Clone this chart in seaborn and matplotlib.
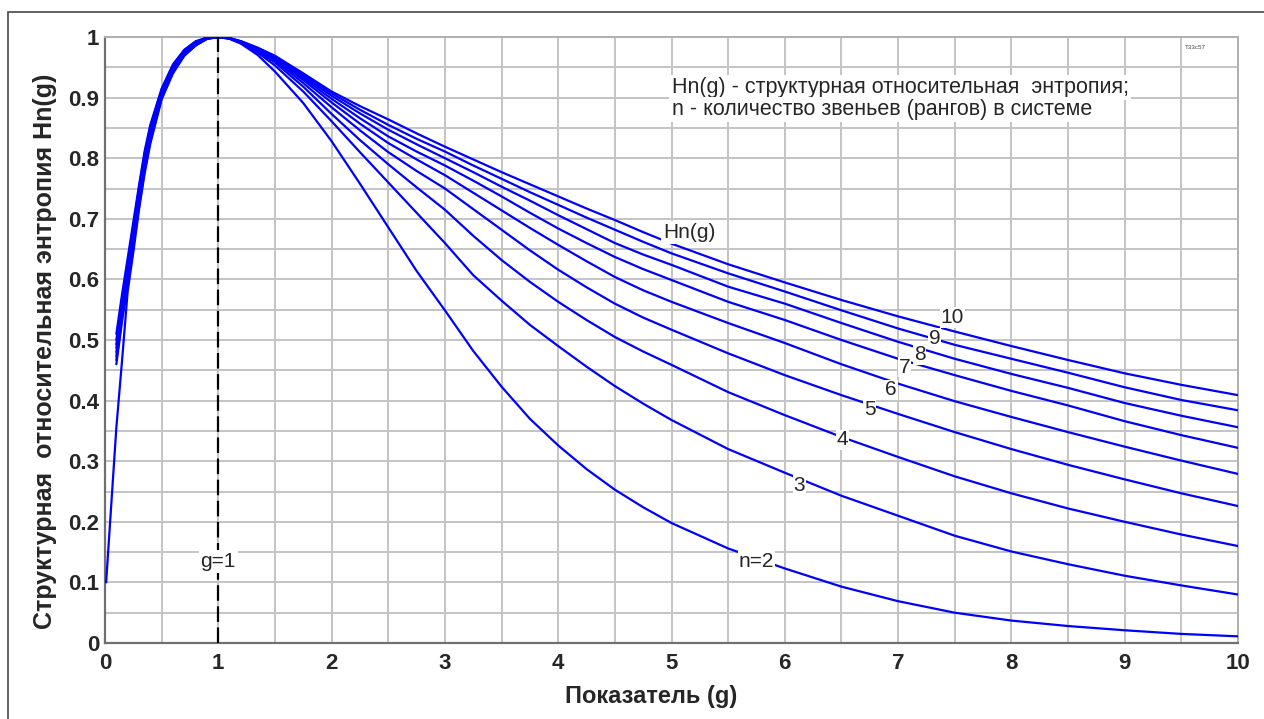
import numpy as np
import pandas as pd
import matplotlib
matplotlib.use("Agg")
import matplotlib.pyplot as plt
from matplotlib.patches import Rectangle
import seaborn as sns

# ---------------- data ----------------
n_values = [2, 3, 4, 5, 6, 7, 8, 9, 10]

g_left = [0.1, 0.15, 0.2, 0.25, 0.3, 0.35, 0.4, 0.5, 0.6, 0.7, 0.8, 0.9]
g_right = [1.0, 1.1, 1.2, 1.35, 1.5, 1.75, 2.0, 2.25, 2.5, 2.75, 3.0, 3.25, 3.5, 3.75,
           4.0, 4.25, 4.5, 4.75, 5.0, 5.5, 6.0, 6.5, 7.0, 7.5, 8.0, 8.5, 9.0, 9.5, 10.0]

g_left_n2 = [0.01, 0.1, 0.15, 0.2, 0.25, 0.3, 0.35, 0.4, 0.5, 0.6, 0.7, 0.8, 0.9]
h_left_n2 = [0.10, 0.355, 0.465, 0.58, 0.645, 0.715, 0.775, 0.824, 0.897, 0.94, 0.969, 0.986, 0.997]

h_left_n3 = [0.46, 0.53, 0.59, 0.655, 0.72, 0.78, 0.828, 0.900, 0.942, 0.970, 0.986, 0.997]
h_left_n4 = [0.467, 0.536, 0.595, 0.660, 0.725, 0.785, 0.832, 0.902, 0.944, 0.971, 0.987, 0.997]
h_left_n5 = [0.473, 0.542, 0.600, 0.665, 0.730, 0.790, 0.836, 0.904, 0.946, 0.972, 0.988, 0.998]
h_left_n6 = [0.480, 0.548, 0.606, 0.670, 0.736, 0.795, 0.840, 0.906, 0.948, 0.974, 0.989, 0.998]
h_left_n7 = [0.487, 0.554, 0.612, 0.676, 0.741, 0.800, 0.844, 0.909, 0.950, 0.975, 0.990, 0.998]
h_left_n8 = [0.493, 0.560, 0.618, 0.682, 0.746, 0.804, 0.848, 0.911, 0.952, 0.976, 0.991, 0.999]
h_left_n9 = [0.500, 0.567, 0.625, 0.688, 0.750, 0.808, 0.852, 0.913, 0.953, 0.978, 0.992, 0.999]
h_left_n10 = [0.51, 0.575, 0.635, 0.695, 0.755, 0.812, 0.855, 0.915, 0.955, 0.979, 0.993, 0.999]

h_right_n2 = [1.0, 0.997, 0.989, 0.970, 0.943, 0.891, 0.828, 0.758, 0.686, 0.614, 0.549, 0.482,
              0.423, 0.370, 0.326, 0.287, 0.253, 0.224, 0.198, 0.156, 0.123, 0.093, 0.069,
              0.050, 0.037, 0.028, 0.021, 0.015, 0.011]
h_right_n3 = [1.0, 0.997, 0.990, 0.974, 0.953, 0.910, 0.861, 0.810, 0.760, 0.710, 0.660, 0.607,
              0.565, 0.525, 0.490, 0.456, 0.424, 0.395, 0.368, 0.320, 0.281, 0.243, 0.210,
              0.177, 0.151, 0.130, 0.111, 0.095, 0.080]
h_right_n4 = [1.0, 0.998, 0.991, 0.976, 0.958, 0.918, 0.873, 0.830, 0.790, 0.752, 0.715, 0.672,
              0.632, 0.596, 0.563, 0.533, 0.505, 0.481, 0.459, 0.414, 0.376, 0.340, 0.307,
              0.275, 0.247, 0.222, 0.200, 0.179, 0.160]
h_right_n5 = [1.0, 0.998, 0.991, 0.978, 0.961, 0.924, 0.884, 0.846, 0.810, 0.779, 0.750, 0.716,
              0.682, 0.648, 0.616, 0.587, 0.560, 0.537, 0.517, 0.478, 0.442, 0.409, 0.378,
              0.348, 0.320, 0.294, 0.270, 0.247, 0.226]
h_right_n6 = [1.0, 0.998, 0.992, 0.979, 0.963, 0.929, 0.892, 0.857, 0.825, 0.798, 0.772, 0.743,
              0.714, 0.685, 0.657, 0.630, 0.604, 0.582, 0.563, 0.528, 0.495, 0.460, 0.428,
              0.399, 0.373, 0.348, 0.324, 0.301, 0.279]
h_right_n7 = [1.0, 0.998, 0.992, 0.980, 0.965, 0.932, 0.898, 0.866, 0.836, 0.811, 0.788, 0.763,
              0.737, 0.710, 0.684, 0.660, 0.637, 0.617, 0.599, 0.563, 0.533, 0.500, 0.469,
              0.442, 0.416, 0.392, 0.366, 0.343, 0.322]
h_right_n8 = [1.0, 0.998, 0.992, 0.981, 0.966, 0.935, 0.903, 0.874, 0.847, 0.823, 0.800, 0.777,
              0.753, 0.730, 0.706, 0.683, 0.660, 0.641, 0.624, 0.588, 0.560, 0.528, 0.497,
              0.469, 0.444, 0.421, 0.396, 0.375, 0.356]
h_right_n9 = [1.0, 0.998, 0.993, 0.982, 0.968, 0.938, 0.907, 0.880, 0.855, 0.832, 0.811, 0.788,
              0.766, 0.744, 0.723, 0.702, 0.682, 0.662, 0.643, 0.610, 0.580, 0.549, 0.519,
              0.492, 0.469, 0.446, 0.422, 0.401, 0.384]
h_right_n10 = [1.0, 0.998, 0.993, 0.982, 0.969, 0.940, 0.910, 0.886, 0.864, 0.841, 0.819, 0.798,
               0.777, 0.757, 0.737, 0.717, 0.698, 0.678, 0.659, 0.625, 0.595, 0.566, 0.539,
               0.514, 0.490, 0.467, 0.445, 0.426, 0.409]

x_ticks = [0, 1, 2, 3, 4, 5, 6, 7, 8, 9, 10]
y_ticks = [0, 0.1, 0.2, 0.3, 0.4, 0.5, 0.6, 0.7, 0.8, 0.9, 1]
y_tick_labels = ["0", "0.1", "0.2", "0.3", "0.4", "0.5", "0.6", "0.7", "0.8", "0.9", "1"]

curve_labels = ["n=2", "3", "4", "5", "6", "7", "8", "9", "10"]
curve_label_g = [5.75, 6.13, 6.51, 6.75, 6.94, 7.06, 7.19, 7.32, 7.48]
curve_label_h = [0.135, 0.26, 0.335, 0.385, 0.418, 0.455, 0.476, 0.503, 0.537]

legend_lines = ["Hn(g) - структурная относительная  энтропия;",
                "n - количество звеньев (рангов) в системе"]

# ---------------- build long table ----------------
left_sets = {2: (g_left_n2, h_left_n2), 3: (g_left, h_left_n3), 4: (g_left, h_left_n4),
             5: (g_left, h_left_n5), 6: (g_left, h_left_n6), 7: (g_left, h_left_n7),
             8: (g_left, h_left_n8), 9: (g_left, h_left_n9), 10: (g_left, h_left_n10)}
right_sets = {2: h_right_n2, 3: h_right_n3, 4: h_right_n4, 5: h_right_n5, 6: h_right_n6,
              7: h_right_n7, 8: h_right_n8, 9: h_right_n9, 10: h_right_n10}
rows = []
for n in n_values:
    gl, hl = left_sets[n]
    for g, h in zip(gl, hl):
        rows.append((n, g, h))
    for g, h in zip(g_right, right_sets[n]):
        rows.append((n, g, h))
df = pd.DataFrame(rows, columns=["n", "g", "H"])

# ---------------- figure ----------------
sns.set_style("white")
plt.rcParams["font.family"] = ["Liberation Sans", "DejaVu Sans"]

fig = plt.figure(figsize=(12.64, 7.19), dpi=100)
ax = fig.add_axes([105 / 1264, 1 - 643 / 719, (1238 - 105) / 1264, (643 - 37) / 719])

# outer frame
fig.patches.append(Rectangle((8 / 1264, -0.05), 1.2, 1 - 12 / 719 + 0.05,
                             transform=fig.transFigure, fill=False,
                             ec="#555555", lw=1.3, zorder=0))

# grid
for xv in np.arange(0, 10.01, 0.5):
    ax.axvline(xv, color="#c4c4c4", lw=1.4, zorder=0)
for yv in np.arange(0, 1.001, 0.05):
    ax.axhline(yv, color="#c4c4c4", lw=1.4, zorder=0)

sns.lineplot(data=df, x="g", y="H", hue="n", units="n", estimator=None,
             palette=["#0000ff"] * len(n_values), legend=False, lw=1.6,
             sort=False, ax=ax, zorder=3)

# g = 1 dashed line
ax.plot([1, 1], [0, 1], color="black", ls=(0, (7, 2.5)), lw=1.6, zorder=4)

lab_fs = 15
ax.text(1, 0.135, "g=1", ha="center", va="center", fontsize=lab_fs, zorder=6,
        bbox=dict(fc="white", ec="none", pad=1.5))

# curve labels
for lab, gx, hy in zip(curve_labels, curve_label_g, curve_label_h):
    ax.text(gx, hy, lab, ha="center", va="center", fontsize=lab_fs, zorder=6,
            bbox=dict(fc="white", ec="none", pad=0.5))
ax.text(5.16, 0.678, "Hn(g)", ha="center", va="center", fontsize=lab_fs, zorder=6,
        bbox=dict(fc="white", ec="none", pad=1.5))

# explanatory text
ax.text(5.0, 0.917, legend_lines[0], ha="left", va="center", fontsize=15.5, zorder=6,
        bbox=dict(fc="white", ec="none", pad=1.5))
ax.text(5.0, 0.880, legend_lines[1], ha="left", va="center", fontsize=15.5, zorder=6,
        bbox=dict(fc="white", ec="none", pad=1.5))
ax.text(9.62, 0.983, "T33c57", ha="center", va="center", fontsize=4.5, color="#444444")

ax.set_xlim(0, 10)
ax.set_ylim(0, 1)
ax.set_xticks(x_ticks)
ax.set_xticklabels([str(v) for v in x_ticks], fontsize=16, fontweight="bold")
ax.set_yticks(y_ticks)
ax.set_yticklabels(y_tick_labels, fontsize=16, fontweight="bold")
ax.tick_params(axis="x", length=0, pad=7)
ax.tick_params(axis="y", length=0, pad=4)
ax.set_xlabel("")
ax.set_ylabel("")

for side in ["top", "right"]:
    ax.spines[side].set_color("#b0b0b0")
    ax.spines[side].set_linewidth(1.4)
for side in ["left", "bottom"]:
    ax.spines[side].set_color("#707070")
    ax.spines[side].set_linewidth(1.6)

fig.text(651 / 1264, 1 - 697 / 719, "Показатель (g)", ha="center", va="center",
         fontsize=17, fontweight="bold")
fig.text(45 / 1264, 1 - 351 / 719, "Структурная  относительная энтропия Hn(g)",
         ha="center", va="center", rotation=90, fontsize=18, fontweight="bold")

fig.savefig("out.png", dpi=100)
